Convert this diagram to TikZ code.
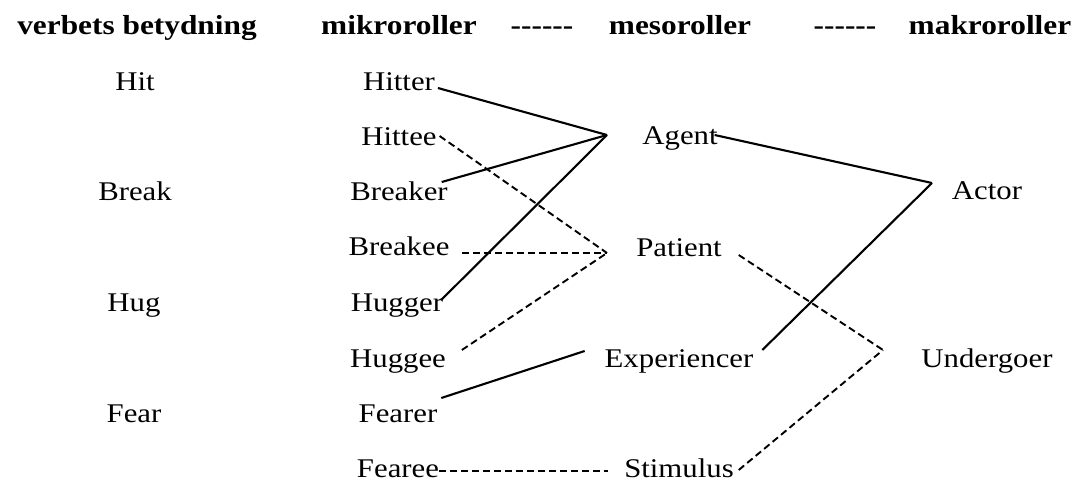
\documentclass[tikz,border=0pt]{standalone}
\usepackage{fontspec}
\setmainfont[FakeStretch=1.14]{Liberation Serif}
\begin{document}
\begin{tikzpicture}[x=1pt,y=-1pt,
  txt/.style={inner sep=0pt, outer sep=0pt, anchor=base, font=\fontsize{27}{27}\selectfont},
  hdr/.style={txt, font=\fontsize{27.5}{27}\selectfont\bfseries},
  solidl/.style={line width=2.1pt, line cap=butt},
  dashl/.style={line width=1.9pt, dash pattern=on 7pt off 4pt}]
\useasboundingbox (0,0) rectangle (1074,481);
% header
\node[hdr] (h1) at (137,35) {verbets betydning};
\node[hdr] (h2) at (399,35) {mikroroller};
\node[hdr] (h3) at (542,35) {{-}{-}{-}{-}{-}{-}};
\node[hdr] (h4) at (680,35) {mesoroller};
\node[hdr] (h5) at (845,35) {{-}{-}{-}{-}{-}{-}};
\node[hdr] (h6) at (990,35) {makroroller};
% verbs
\node[txt] (hit) at (135,91) {Hit};
\node[txt] (break) at (135,201) {Break};
\node[txt] (hug) at (134,311) {Hug};
\node[txt] (fear) at (134,422) {Fear};
% micro roles
\node[txt] (hitter) at (399,91) {Hitter};
\node[txt] (hittee) at (399,146) {Hittee};
\node[txt] (breaker) at (399,201) {Breaker};
\node[txt] (breakee) at (399,255) {Breakee};
\node[txt] (hugger) at (397,311) {Hugger};
\node[txt] (huggee) at (398,367) {Huggee};
\node[txt] (fearer) at (398,422) {Fearer};
\node[txt] (fearee) at (398,477) {Fearee};
% meso roles
\node[txt] (agent) at (680,145) {Agent};
\node[txt] (patient) at (679,257) {Patient};
\node[txt] (exper) at (679,367) {Experiencer};
\node[txt] (stim) at (679,477) {Stimulus};
% macro roles
\node[txt] (actor) at (987,200) {Actor};
\node[txt] (under) at (987,367) {Undergoer};
% junctions
\coordinate (agJ) at (607,135);
\coordinate (paJ) at (607,253);
\coordinate (acJ) at (932,183);
\coordinate (unJ) at (883,350);
% micro -> meso
\draw[solidl] ([shift={(3,-3)}]hitter.base east) -- (agJ);
\draw[solidl] ([shift={(-6,-19)}]breaker.base east) -- (agJ);
\draw[solidl] ([shift={(-2,-11)}]hugger.base east) -- (agJ);
\draw[dashl] ([shift={(3,-10)}]hittee.base east) -- (paJ);
\draw[dashl] ([shift={(13,-2)}]breakee.base east) -- (paJ);
\draw[dashl] ([shift={(16,-17)}]huggee.base east) -- (paJ);
\draw[solidl] ([shift={(4,-24)}]fearer.base east) -- ([shift={(-20,-16)}]exper.base west);
\draw[dashl] ([shift={(0,-6)}]fearee.base east) -- ([shift={(-16,-6)}]stim.base west);
% meso -> macro
\draw[solidl] ([shift={(-3,-10)}]agent.base east) -- (acJ);
\draw[solidl] ([shift={(9,-17)}]exper.base east) -- (acJ);
\draw[dashl] ([shift={(17,-2)}]patient.base east) -- (unJ);
\draw[dashl] ([shift={(5,-7)}]stim.base east) -- (unJ);
\end{tikzpicture}
\end{document}
